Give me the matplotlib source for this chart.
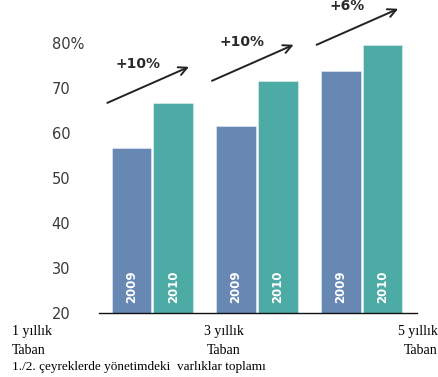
import matplotlib
matplotlib.use("Agg")
import matplotlib.pyplot as plt
import numpy as np

# Data
groups = ["1 yıllık\nTaban", "3 yıllık\nTaban", "5 yıllık\nTaban"]
years = ["2009", "2010"]
values_2009 = [56.7, 61.6, 73.8]
values_2010 = [66.7, 71.6, 79.6]
growth_labels = ["+10%", "+10%", "+6%"]
yticks = [20, 30, 40, 50, 60, 70, 80]
ytick_labels = ["20", "30", "40", "50", "60", "70", "80%"]
footnote = "1./2. çeyreklerde yönetimdeki  varlıklar toplamı"

color_2009 = "#6888B4"
color_2010 = "#4DABA5"
text_gray = "#3a3a3a"

W, H = 439, 377
fig = plt.figure(figsize=(W / 100, H / 100), dpi=100)
ax = fig.add_axes([99 / W, 64 / H, (417 - 99) / W, 313 / H])

x = np.arange(len(groups))
bw = 0.38
off = 0.2
ax.bar(x - off, [v - 20 for v in values_2009], bw, bottom=20, color=color_2009,
       edgecolor="#e8eef5", linewidth=0.4)
ax.bar(x + off, [v - 20 for v in values_2010], bw, bottom=20, color=color_2010,
       edgecolor="#e5f3f2", linewidth=0.4)

ax.set_xlim(-0.51, 2.53)
ax.set_ylim(20, 20 + 313 / 4.5)

# year labels inside bars
for xi in x:
    for dx, yr in zip((-off, off), years):
        ax.text(xi + dx, 22.2, yr, rotation=90, ha="center", va="bottom",
                color="white", fontsize=8.5, fontweight="bold",
                family=["DejaVu Sans Condensed", "DejaVu Sans"])

# growth arrows and labels
for xi, v, lab in zip(x, values_2010, growth_labels):
    ax.annotate("", xy=(xi + 0.35, v + 8), xytext=(xi - 0.43, v),
                arrowprops=dict(arrowstyle="->", color="#222222", lw=1.4,
                                mutation_scale=15, shrinkA=0, shrinkB=0),
                annotation_clip=False)
    ax.text(xi - 0.14, v + 8.6, lab, ha="center", va="center", fontsize=10,
            color="#2a2a2a", fontweight="semibold", clip_on=False)

# axes styling
for s in ("top", "right", "left"):
    ax.spines[s].set_visible(False)
ax.spines["bottom"].set_color("#111111")
ax.spines["bottom"].set_linewidth(1.0)
ax.set_xticks([])
ax.set_yticks(yticks)
ax.set_yticklabels(ytick_labels)
ax.tick_params(axis="y", length=0, pad=34, labelsize=10.5, labelcolor=text_gray)
for t in ax.get_yticklabels():
    t.set_horizontalalignment("left")

# category labels below the axis
serif = "Liberation Serif"
positions = [(12 / W, "left"), (224 / W, "center"), (438 / W, "right")]
for (px, ha), lab in zip(positions, groups):
    first, second = lab.split("\n")
    fig.text(px, 1 - 332 / H, first, ha=ha, va="center", fontsize=10,
             family=serif, color="black")
    fig.text(px, 1 - 351 / H, second, ha=ha, va="center", fontsize=10,
             family=serif, color="black")
fig.text(12 / W, 1 - 367 / H, footnote, ha="left", va="center", fontsize=9.5,
         family=serif, color="black")

fig.savefig("out.png", dpi=100)
